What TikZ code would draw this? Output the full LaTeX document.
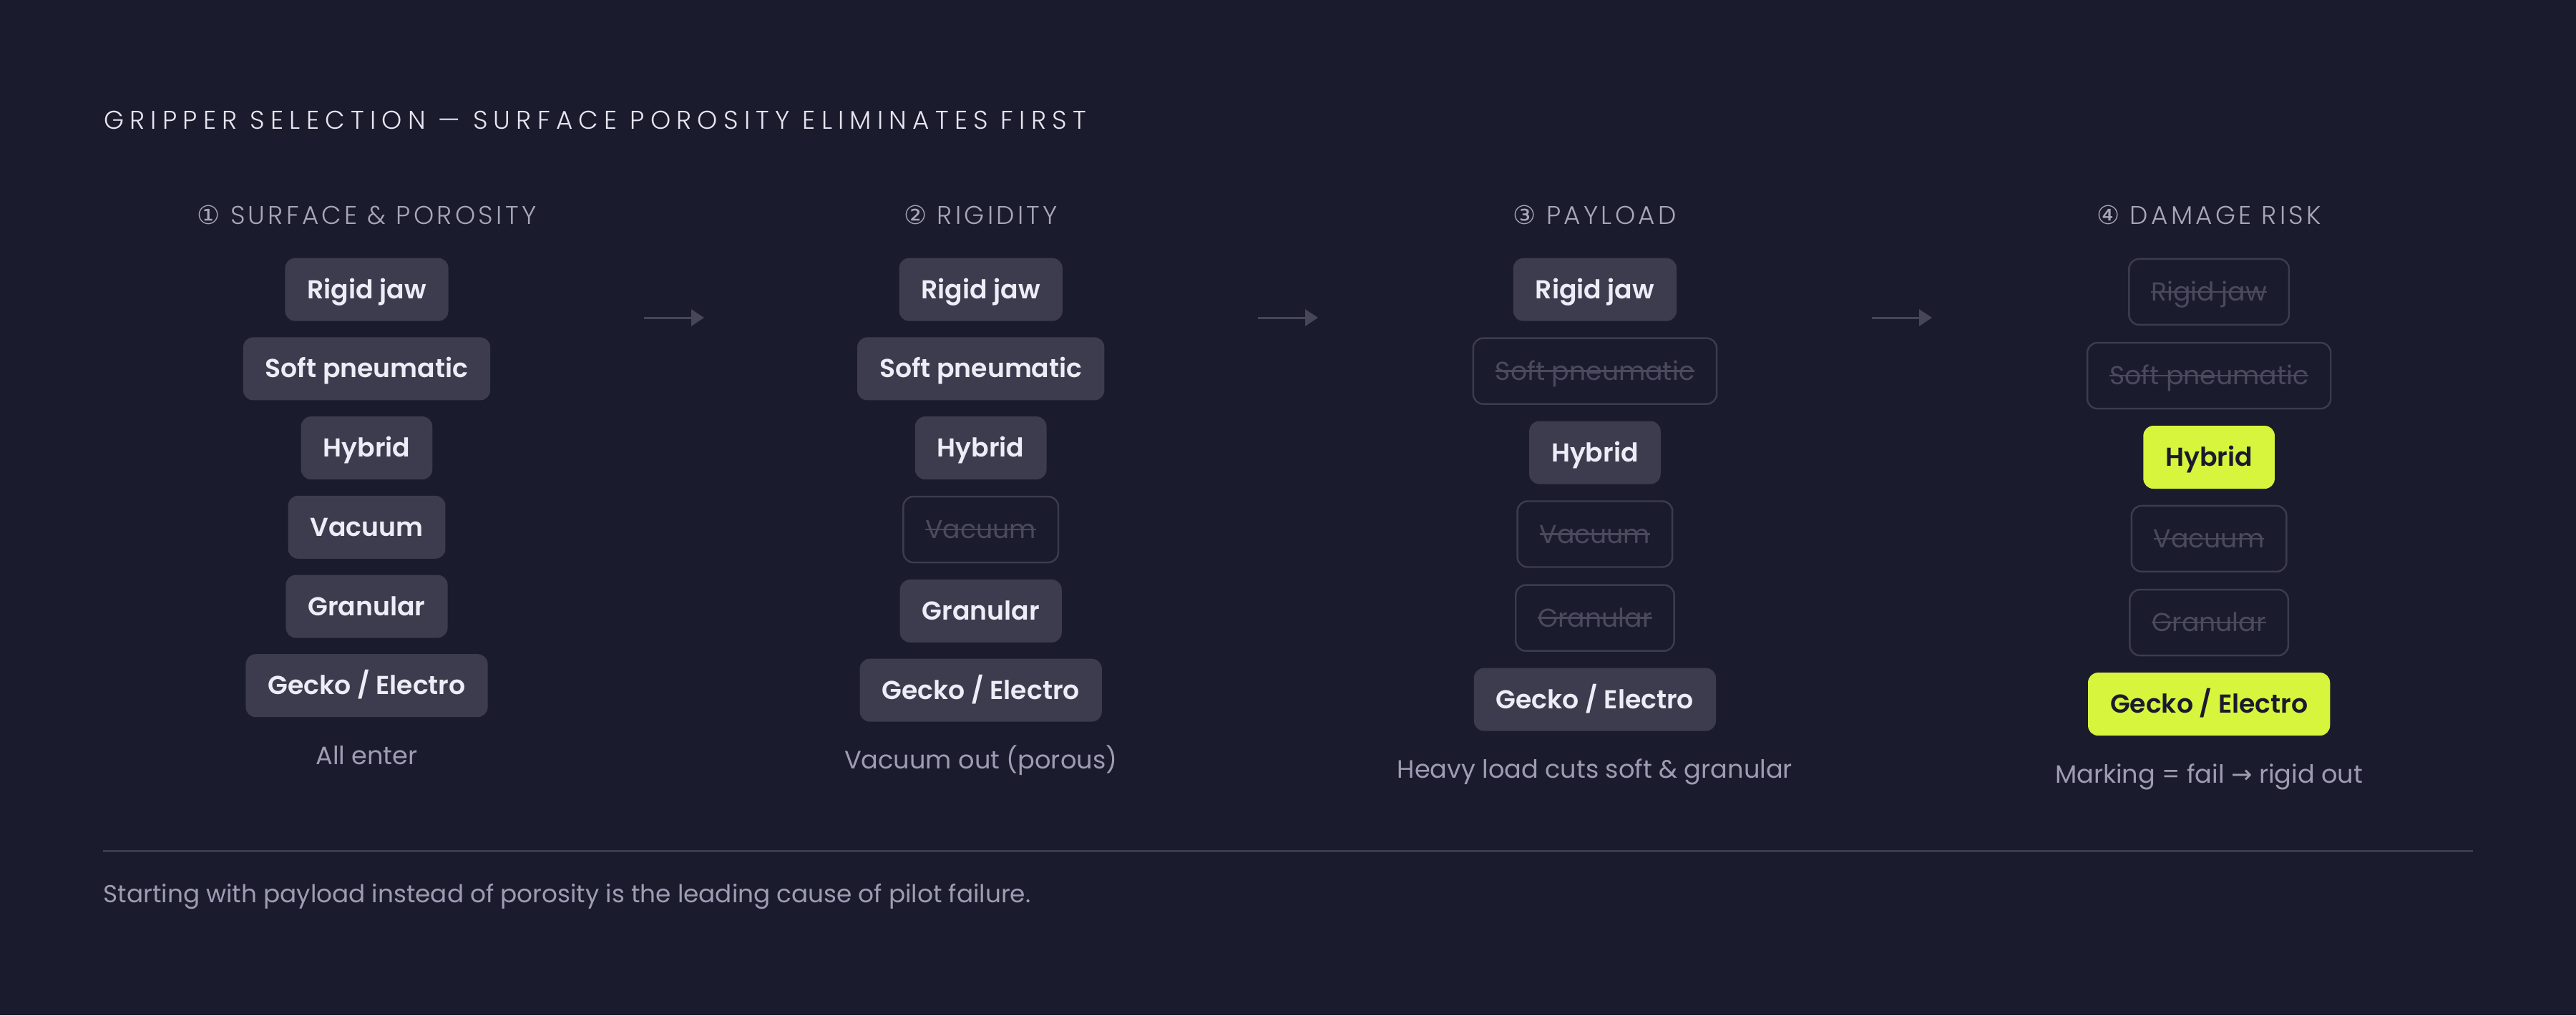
\documentclass[tikz,border=0pt]{standalone}
\usepackage{fontspec}
\setmainfont{Poppins}
\newfontfamily\labelfont{Poppins SemiBold}
\newfontfamily\thinfont{Poppins Light}
\newfontfamily\symbolfont{DejaVu Sans}
\usetikzlibrary{positioning}
\usetikzlibrary{arrows.meta}

\definecolor{bg}{HTML}{1B1B2E}
\definecolor{boxfill}{HTML}{3D3C4F}
\definecolor{boxtext}{HTML}{EEEDF7}
\definecolor{cutline}{HTML}{3C3B4F}
\definecolor{cuttext}{HTML}{4A495D}
\definecolor{lime}{HTML}{D7F53C}
\definecolor{notetext}{HTML}{9E9CB2}
\definecolor{headtext}{HTML}{A8A6B9}
\definecolor{titletext}{HTML}{E6E4EF}
\definecolor{arrowcol}{HTML}{46455A}

\begin{document}
\begin{tikzpicture}[
keep/.style ={rectangle, rounded corners=1.4mm, fill=boxfill, text=boxtext, font=\labelfont\fontsize{10.3}{12}\selectfont, minimum height=8.8mm, inner xsep=3.1mm, inner ysep=0pt, text height=2.9mm, text depth=0.4mm, outer sep=0pt},
cut/.style ={keep, fill=bg, draw=cutline, line width=0.7pt, text=cuttext, font=\normalfont\fontsize{10.3}{12}\selectfont, minimum height=9.2mm, outer sep=0.35pt,
  path picture={\draw[cuttext] ([xshift=3.1mm]path picture bounding box.west) -- ([xshift=-3.1mm]path picture bounding box.east);}},
pick/.style ={keep, fill=lime, text=bg},
head/.style ={text=headtext, font=\thinfont\fontsize{10.2}{12}\selectfont\addfontfeature{LetterSpace=12}, inner sep=0pt, text depth=0pt, anchor=base},
note/.style ={text=notetext, font=\fontsize{10}{12}\selectfont, inner sep=0pt, text height=2.6mm, text depth=0pt},
node distance=2.27mm
]
%background and frame
\fill[bg] (0,0) rectangle (36,-14.19);
\useasboundingbox (0,0) rectangle (36,-14.19);
%title
\node[anchor=base west, inner sep=0pt, text=titletext, font=\thinfont\fontsize{10.2}{12}\selectfont\addfontfeature{LetterSpace=23}] (title) at (1.446,-1.80) {GRIPPER SELECTION — SURFACE POROSITY ELIMINATES FIRST};
%column 1, surface and porosity
\node[head] (head1) at (5.125,-3.133) {{\symbolfont ①} SURFACE \& POROSITY};
\node[keep, below=4.67mm of head1] (rj1) {Rigid jaw};
\node[keep, below=of rj1] (sp1) {Soft pneumatic};
\node[keep, below=of sp1] (hy1) {Hybrid};
\node[keep, below=of hy1] (va1) {Vacuum};
\node[keep, below=of va1] (gr1) {Granular};
\node[keep, below=of gr1] (ge1) {Gecko / Electro};
\node[note, below=3.95mm of ge1] (note1) {All enter};
%column 2, rigidity
\node[head] (head2) at (13.707,-3.133) {{\symbolfont ②} RIGIDITY};
\node[keep, below=4.67mm of head2] (rj2) {Rigid jaw};
\node[keep, below=of rj2] (sp2) {Soft pneumatic};
\node[keep, below=of sp2] (hy2) {Hybrid};
\node[cut, below=of hy2] (va2) {Vacuum};
\node[keep, below=of va2] (gr2) {Granular};
\node[keep, below=of gr2] (ge2) {Gecko / Electro};
\node[note, below=3.95mm of ge2] (note2) {Vacuum out (porous)};
%column 3, payload
\node[head] (head3) at (22.289,-3.133) {{\symbolfont ③} PAYLOAD};
\node[keep, below=4.67mm of head3] (rj3) {Rigid jaw};
\node[cut, below=of rj3] (sp3) {Soft pneumatic};
\node[keep, below=of sp3] (hy3) {Hybrid};
\node[cut, below=of hy3] (va3) {Vacuum};
\node[cut, below=of va3] (gr3) {Granular};
\node[keep, below=of gr3] (ge3) {Gecko / Electro};
\node[note, below=3.95mm of ge3] (note3) {Heavy load cuts soft \& granular};
%column 4, damage risk
\node[head] (head4) at (30.871,-3.133) {{\symbolfont ④} DAMAGE RISK};
\node[cut, below=4.67mm of head4] (rj4) {Rigid jaw};
\node[cut, below=of rj4] (sp4) {Soft pneumatic};
\node[pick, below=of sp4] (hy4) {Hybrid};
\node[cut, below=of hy4] (va4) {Vacuum};
\node[cut, below=of va4] (gr4) {Granular};
\node[pick, below=of gr4] (ge4) {Gecko / Electro};
\node[note, below=3.95mm of ge4] (note4) {Marking = fail {\symbolfont →} rigid out};
%arrows between the columns
\coordinate (a1) at (9.00,-4.44);
\coordinate (b1) at (9.84,-4.44);
\coordinate (a2) at (17.58,-4.44);
\coordinate (b2) at (18.42,-4.44);
\coordinate (a3) at (26.16,-4.44);
\coordinate (b3) at (27.00,-4.44);
\draw[->,>={Triangle[length=1.8mm,width=2.3mm]}, arrowcol, line width=0.85pt] (a1) -- (b1);
\draw[->,>={Triangle[length=1.8mm,width=2.3mm]}, arrowcol, line width=0.85pt] (a2) -- (b2);
\draw[->,>={Triangle[length=1.8mm,width=2.3mm]}, arrowcol, line width=0.85pt] (a3) -- (b3);
%rule and footer
\coordinate (ruleL) at (1.44,-11.895);
\coordinate (ruleR) at (34.56,-11.895);
\draw[cutline, line width=0.85pt] (ruleL) -- (ruleR);
\node[anchor=base west, inner sep=0pt, text=notetext, font=\fontsize{9.75}{11}\selectfont] (foot) at (1.44,-12.617) {Starting with payload instead of porosity is the leading cause of pilot failure.};
\end{tikzpicture}
\end{document}
